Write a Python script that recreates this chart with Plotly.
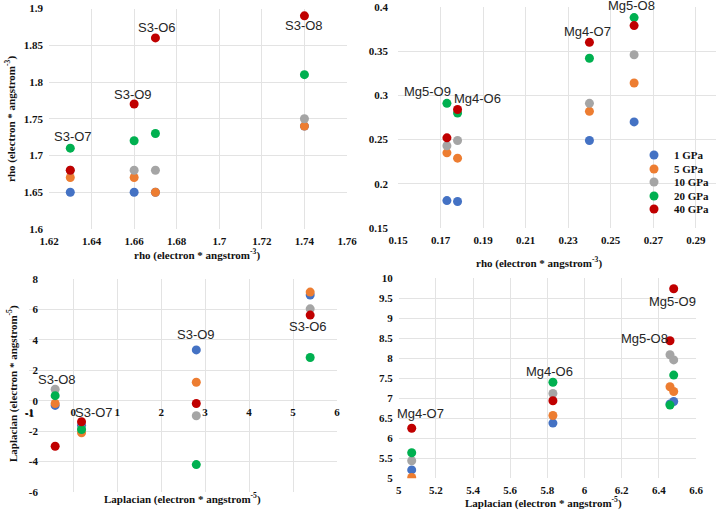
import plotly.graph_objects as go

# ---------------- data ----------------
series_names = ["1 GPa", "5 GPa", "10 GPa", "20 GPa", "40 GPa"]

# Panel A (top-left): rho, S3 bonds
a_bonds = ["S3-O7", "S3-O9", "S3-O6", "S3-O8"]
a_x = [1.63, 1.66, 1.67, 1.74]
a_1 = [1.65, 1.65, 1.65, 1.74]
a_5 = [1.67, 1.67, 1.65, 1.74]
a_10 = [1.68, 1.68, 1.68, 1.75]
a_20 = [1.71, 1.72, 1.73, 1.81]
a_40 = [1.68, 1.77, 1.86, 1.89]

# Panel B (top-right): rho, Mg bonds
b_bonds = ["Mg5-O9", "Mg4-O6", "Mg4-O7", "Mg5-O8"]
b_x = [0.173, 0.178, 0.240, 0.261]
b_1 = [0.181, 0.180, 0.249, 0.270]
b_5 = [0.235, 0.229, 0.282, 0.314]
b_10 = [0.243, 0.249, 0.291, 0.346]
b_20 = [0.291, 0.280, 0.342, 0.388]
b_40 = [0.252, 0.284, 0.360, 0.379]

# Panel C (bottom-left): Laplacian, S3 bonds
c_bonds = ["S3-O8", "S3-O7", "S3-O9", "S3-O6"]
c_x = [-0.41, 0.19, 2.80, 5.39]
c_1 = [-0.31, -1.62, 3.34, 6.95]
c_5 = [-0.18, -2.11, 1.21, 7.14]
c_10 = [0.75, -1.85, -0.99, 6.04]
c_20 = [0.33, -1.89, -4.20, 2.84]
c_40 = [-2.99, -1.38, -0.18, 5.63]
c_xticks = [-1, 0, 1, 2, 3, 4, 5, 6]
c_xticktext = ["-1", "0", "1", "2", "3", "4", "5", "6"]
c_yticks = [-6, -4, -2, 0, 2, 4, 6, 8]
c_yticktext = ["-6", "-4", "-2", "0", "2", "4", "6", "8"]

# Panel D (bottom-right): Laplacian, Mg bonds
d_bonds = ["Mg4-O7", "Mg4-O6", "Mg5-O8", "Mg5-O9"]
d_x = [5.07, 5.83, 6.46, 6.48]
d_1 = [5.21, 6.38, 6.86, 6.92]
d_5 = [5.02, 6.57, 7.29, 7.17]
d_10 = [5.44, 7.12, 8.09, 7.96]
d_20 = [5.64, 7.40, 6.83, 7.58]
d_40 = [6.25, 6.94, 8.44, 9.74]

rho_title = "rho (electron * angstrom<sup>-3</sup>)"
lap_title = "Laplacian (electron * angstrom<sup>-5</sup>)"

# ---------------- style ----------------
colors = ["#4472C4", "#ED7D31", "#A5A5A5", "#00B050", "#C00000"]
W, H = 716, 510
TICK_FONT = dict(family="Liberation Serif", size=11, color="#111111", weight="bold")
TITLE_FONT = dict(family="Liberation Serif", size=11, color="#111111", weight="bold")
LABEL_FONT = dict(family="Liberation Sans", size=13, color="#262626")
GRID = "#e3e3e3"

def px_x(p):
    return p / W

def px_y(p):
    return 1 - p / H

panels = [
    dict(bonds=a_bonds, x=a_x, ys=[a_1, a_5, a_10, a_20, a_40], ax="x", ay="y",
         shifts=[(3, 12), (-1, 10), (2, 10), (0, -10)]),
    dict(bonds=b_bonds, x=b_x, ys=[b_1, b_5, b_10, b_20, b_40], ax="x2", ay="y2",
         shifts=[(-19, 12), (20, 11), (-2, 11), (-3, 12)]),
    dict(bonds=c_bonds, x=c_x, ys=[c_1, c_5, c_10, c_20, c_40], ax="x3", ay="y3",
         shifts=[(2, 10), (12, 9), (0, 15), (-2, -34)]),
    dict(bonds=d_bonds, x=d_x, ys=[d_1, d_5, d_10, d_20, d_40], ax="x4", ay="y4",
         shifts=[(9, 15), (-3, 11), (-25, 2), (-1, -13)]),
]

fig = go.Figure()
legend_names = ["legend", "legend2", "legend3", "legend4", "legend5"]
for pi, p in enumerate(panels):
    for si, (name, ys) in enumerate(zip(series_names, p["ys"])):
        fig.add_trace(go.Scatter(
            x=p["x"], y=ys, mode="markers", name=name,
            marker=dict(color=colors[si], size=9, line=dict(width=0)),
            xaxis=p["ax"], yaxis=p["ay"],
            showlegend=(pi == 1), legend=legend_names[si],
        ))

annotations = []
for p in panels:
    for i, bond in enumerate(p["bonds"]):
        ymax = max(ys[i] for ys in p["ys"])
        dx, dy = p["shifts"][i]
        annotations.append(dict(
            x=p["x"][i], y=ymax, xref=p["ax"], yref=p["ay"], text=bond,
            showarrow=False, xshift=dx, yshift=dy, font=LABEL_FONT,
        ))

# axis titles
for txt, cx, cy, ang in [
    (rho_title, 197, 254, 0),
    (rho_title, 10, 119, -90),
    (rho_title, 539, 262, 0),
    (lap_title, 182, 498, 0),
    (lap_title, 12, 384, -90),
    (lap_title, 543, 502, 0),
]:
    annotations.append(dict(x=px_x(cx), y=px_y(cy), xref="paper", yref="paper",
                            text=txt, showarrow=False, textangle=ang,
                            font=TITLE_FONT, xanchor="center", yanchor="middle"))

# first x tick label of the bottom-left axis (plotly suppresses it at the range edge)
annotations.append(dict(x=c_xticks[0], y=0, xref="x3", yref="y3", text=c_xticktext[0],
                        showarrow=False, yshift=-12, font=TICK_FONT))

common = dict(showgrid=True, gridcolor=GRID, gridwidth=1, zeroline=False,
              showline=False, ticks="", tickfont=TICK_FONT, automargin=False)

layout_legends = {}
leg_y = [155, 169, 182, 196, 209]
for k, ln in enumerate(legend_names):
    layout_legends[ln] = dict(
        x=px_x(634), y=px_y(leg_y[k]), xanchor="left", yanchor="middle",
        bgcolor="rgba(0,0,0,0)", borderwidth=0, tracegroupgap=0,
        font=dict(family="Liberation Serif", size=11, color="#111111", weight="bold"),
        itemclick=False, itemdoubleclick=False,
    )

fig.update_layout(
    width=W, height=H, margin=dict(l=0, r=0, t=0, b=0, pad=0, autoexpand=False),
    paper_bgcolor="white", plot_bgcolor="white",
    showlegend=True,
    annotations=annotations,
    xaxis=dict(domain=[px_x(49), px_x(347)], range=[1.62, 1.76], tick0=1.62, dtick=0.02,
               anchor="y", ticklabelstandoff=4, **common),
    yaxis=dict(domain=[px_y(229), px_y(8.5)], range=[1.6, 1.9], dtick=0.05,
               anchor="x", ticklabelstandoff=5, **common),
    xaxis2=dict(domain=[px_x(398), 1.0], range=[0.15, 0.2995], tick0=0.15, dtick=0.02,
                anchor="y2", ticklabelstandoff=4, **common),
    yaxis2=dict(domain=[px_y(228), px_y(7)], range=[0.15, 0.4], dtick=0.05,
                anchor="x2", ticklabelstandoff=9, **common),
    xaxis3=dict(domain=[px_x(29), px_x(337)], range=[-1.005, 6],
                tickmode="array", tickvals=c_xticks, ticktext=c_xticktext,
                anchor="y3", ticklabelstandoff=-88,
                ticklabeloverflow="allow", **common),
    yaxis3=dict(domain=[px_y(492), px_y(279)], range=[-6, 8],
                tickmode="array", tickvals=c_yticks, ticktext=c_yticktext,
                anchor="x3", ticklabelstandoff=-10, ticklabeloverflow="allow", **common),
    xaxis4=dict(domain=[px_x(398.7), px_x(696)], range=[5, 6.6], dtick=0.2,
                anchor="y4", ticklabelstandoff=4, **common),
    yaxis4=dict(domain=[px_y(478.3), px_y(278.3)], range=[5, 10], dtick=0.5,
                anchor="x4", ticklabelstandoff=5, **common),
    **layout_legends,
)

fig.write_html("out.html", config={"displayModeBar": False},
               post_script="document.body.style.margin='0';")
